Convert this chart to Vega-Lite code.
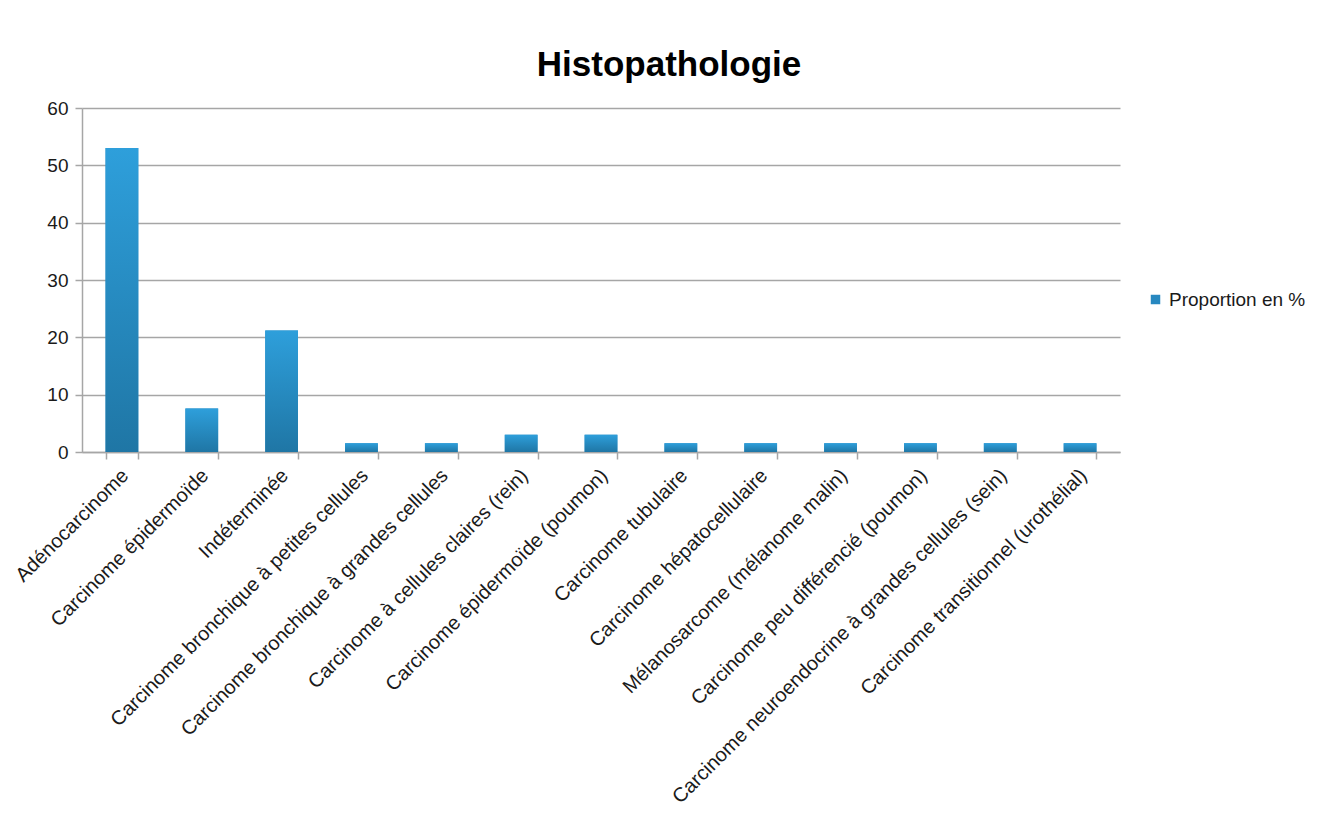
{
  "$schema": "https://vega.github.io/schema/vega-lite/v6.json",
  "autosize": {"type": "none"},
  "width": 1038,
  "height": 344,
  "padding": {"left": 82, "top": 108, "right": 216, "bottom": 371},
  "background": "white",
  "title": {
    "text": "Histopathologie",
    "font": "Liberation Sans",
    "fontSize": 35,
    "fontWeight": "bold",
    "color": "#000000",
    "anchor": "middle",
    "baseline": "alphabetic",
    "offset": -12,
    "dx": 68
  },
  "data": {
    "values": [
      {"type": "Adénocarcinome", "pct": 53.03},
      {"type": "Carcinome épidermoïde", "pct": 7.58},
      {"type": "Indéterminée", "pct": 21.21},
      {"type": "Carcinome bronchique à petites cellules", "pct": 1.52},
      {"type": "Carcinome bronchique à grandes cellules", "pct": 1.52},
      {"type": "Carcinome à cellules claires (rein)", "pct": 3.03},
      {"type": "Carcinome épidermoïde (poumon)", "pct": 3.03},
      {"type": "Carcinome tubulaire", "pct": 1.52},
      {"type": "Carcinome hépatocellulaire", "pct": 1.52},
      {"type": "Mélanosarcome  (mélanome malin)", "pct": 1.52},
      {"type": "Carcinome peu différencié (poumon)", "pct": 1.52},
      {"type": "Carcinome neuroendocrine à grandes cellules (sein)", "pct": 1.52},
      {"type": "Carcinome transitionnel (urothélial)", "pct": 1.52}
    ]
  },
  "encoding": {
    "x": {
      "field": "type",
      "type": "nominal",
      "sort": null,
      "scale": {"paddingInner": 0.59, "paddingOuter": 0.295},
      "axis": {
        "title": null,
        "labelAngle": -45,
        "labelAlign": "right",
        "labelBaseline": "top",
        "labelFont": "Liberation Sans",
        "labelFontSize": 20,
        "labelColor": "#1a1a1a",
        "labelPadding": 6,
        "labelOffset": -4,
        "labelLimit": 700,
        "tickBand": "extent",
        "ticks": true,
        "tickSize": 7,
        "tickColor": "#a6a6a6",
        "tickWidth": 1.5,
        "domainColor": "#a6a6a6",
        "domainWidth": 1.5,
        "grid": false
      }
    },
    "y": {
      "field": "pct",
      "type": "quantitative",
      "scale": {"domain": [0, 60]},
      "axis": {
        "title": null,
        "values": [0, 10, 20, 30, 40, 50, 60],
        "labelFont": "Liberation Sans",
        "labelFontSize": 19,
        "labelColor": "#1a1a1a",
        "labelPadding": 7,
        "tickSize": 7,
        "tickColor": "#a6a6a6",
        "tickWidth": 1.5,
        "domainColor": "#a6a6a6",
        "domainWidth": 1.5,
        "grid": true,
        "gridColor": "#a6a6a6",
        "gridWidth": 1.5
      }
    }
  },
  "layer": [
    {
      "mark": {"type": "bar"},
      "encoding": {
        "color": {
          "datum": "Proportion en %",
          "type": "nominal",
          "scale": {"range": ["#2788c0"]},
          "legend": {
            "title": null,
            "orient": "none",
            "legendX": 1064,
            "legendY": 182,
            "symbolType": "square",
            "symbolSize": 90,
            "symbolStrokeWidth": 0,
            "labelFont": "Liberation Sans",
            "labelFontSize": 19,
            "labelColor": "#1a1a1a",
            "labelOffset": 4,
            "encode": {
              "symbols": {
                "update": {
                  "fill": {
                    "value": {
                      "gradient": "linear",
                      "x1": 0, "y1": 0, "x2": 0, "y2": 1,
                      "stops": [
                        {"offset": 0, "color": "#2e9fdb"},
                        {"offset": 1, "color": "#1f76a5"}
                      ]
                    }
                  }
                }
              }
            }
          }
        }
      }
    },
    {
      "mark": {
        "type": "bar",
        "color": {
          "gradient": "linear",
          "x1": 0, "y1": 0, "x2": 0, "y2": 1,
          "stops": [
            {"offset": 0, "color": "#2e9fdb"},
            {"offset": 1, "color": "#1f76a5"}
          ]
        }
      }
    }
  ],
  "config": {
    "view": {"stroke": null}
  }
}
